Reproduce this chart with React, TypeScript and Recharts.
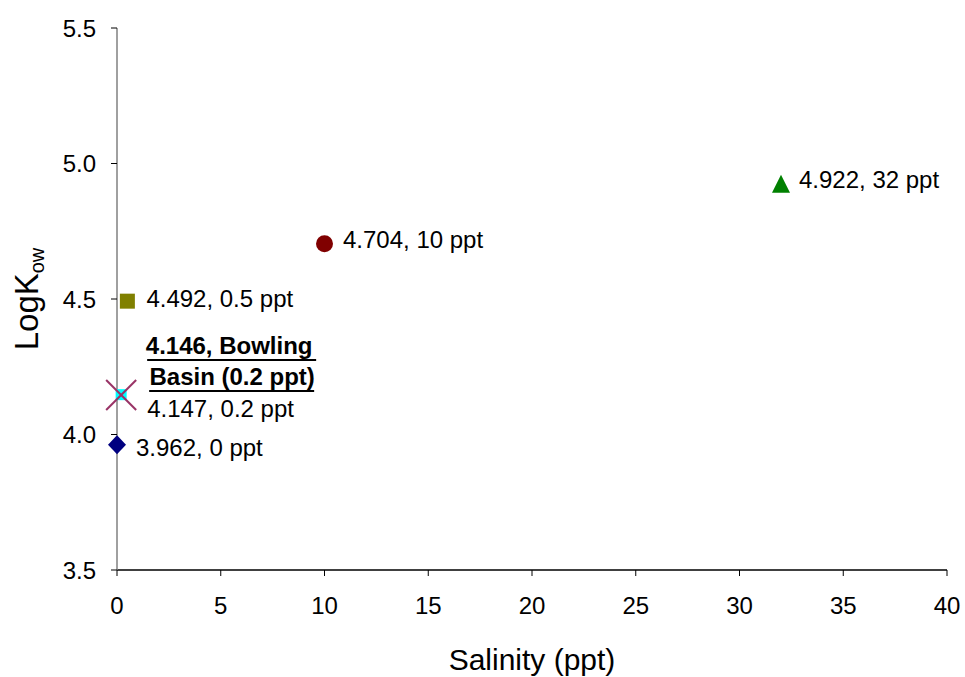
import React from "react";
import { ScatterChart, Scatter, XAxis, YAxis, Label } from "recharts";

// Partition coefficient vs. salinity of the water phase
const salinity = [0, 0.2, 0.5, 10, 32];
const logKow = [3.962, 4.147, 4.492, 4.704, 4.922];
const markerKinds = ["diamond", "smallSquare", "square", "circle", "triangle"];
const markerColors = ["#000080", "#00FFFF", "#808000", "#800000", "#008000"];

// Field sample
const basinSalinity = [0.2];
const basinLogKow = [4.146];
const basinTitle = ["Bowling", "Basin"];

const xTicks = [0, 5, 10, 15, 20, 25, 30, 35, 40];
const yTicks = [3.5, 4.0, 4.5, 5.0, 5.5];

// label placement next to each marker: [dx, baseline dy]
const labelOffsets = [
  [19, 11],
  [26, 22],
  [19, 6],
  [18.5, 4],
  [18, 3.5],
];

const FONT = "'Liberation Sans', Arial, sans-serif";

const series = salinity.map((s, i) => ({
  name: `${s} ppt`,
  kind: markerKinds[i],
  color: markerColors[i],
  offset: labelOffsets[i],
  data: [{ x: s, y: logKow[i] }],
}));

const basinData = basinSalinity.map((s, i) => ({ x: s, y: basinLogKow[i] }));

function Marker({ cx, cy, kind, color }: any) {
  switch (kind) {
    case "diamond":
      return <polygon points={`${cx},${cy - 9.5} ${cx + 9},${cy} ${cx},${cy + 9.5} ${cx - 9},${cy}`} fill={color} />;
    case "smallSquare":
      return <rect x={cx - 5.5} y={cy - 5.5} width={11} height={11} fill={color} />;
    case "square":
      return <rect x={cx - 7.5} y={cy - 7.5} width={15} height={15} fill={color} />;
    case "circle":
      return <circle cx={cx} cy={cy} r={8.5} fill={color} />;
    case "triangle":
      return <polygon points={`${cx},${cy - 10} ${cx + 9},${cy + 8} ${cx - 9},${cy + 8}`} fill={color} />;
    default:
      return null;
  }
}

function makePoint(kind: string, color: string, offset: number[]) {
  return (props: any) => {
    const { cx, cy, payload } = props;
    return (
      <g>
        <Marker cx={cx} cy={cy} kind={kind} color={color} />
        <text x={cx + offset[0]} y={cy + offset[1]} fontSize={24} fontFamily={FONT} fill="#000">
          {`${payload.y}, ${payload.x} ppt`}
        </text>
      </g>
    );
  };
}

function BasinPoint(props: any) {
  const { cx, cy, payload } = props;
  return (
    <g>
      <line x1={cx - 15} y1={cy - 15} x2={cx + 15} y2={cy + 15} stroke="#993366" strokeWidth={2} />
      <line x1={cx - 15} y1={cy + 15} x2={cx + 15} y2={cy - 15} stroke="#993366" strokeWidth={2} />
      <text textAnchor="middle" fontSize={24} fontWeight="bold" fontFamily={FONT} fill="#000">
        <tspan x={cx + 108} y={cy - 41}>{`${payload.y}, ${basinTitle[0]}`}</tspan>
        <tspan x={cx + 111} y={cy - 10}>{`${basinTitle[1]} (${payload.x} ppt)`}</tspan>
      </text>
      <line x1={cx + 26} y1={cy - 35} x2={cx + 195} y2={cy - 35} stroke="#000" strokeWidth={2} />
      <line x1={cx + 28} y1={cy - 4} x2={cx + 193} y2={cy - 4} stroke="#000" strokeWidth={2} />
    </g>
  );
}

export default function App() {
  return (
    <div style={{ position: "absolute", left: 0, top: 0, background: "#fff" }}>
      <ScatterChart width={965} height={677} margin={{ top: 28, right: 18, left: 57, bottom: 47 }}>
        <XAxis
          type="number"
          dataKey="x"
          domain={[0, 40]}
          ticks={xTicks}
          interval={0}
          axisLine={{ stroke: "#000", strokeWidth: 1.5 }}
          tickLine={{ stroke: "#000" }}
          tickSize={6}
          tickMargin={21}
          height={60}
          tick={{ fontSize: 24, fontFamily: FONT, fill: "#000" }}
        >
          <Label
            content={({ viewBox }: any) => (
              <text x={viewBox.x + viewBox.width / 2} y={viewBox.y + 100} textAnchor="middle" fontSize={30} fontFamily={FONT} fill="#000">
                Salinity (ppt)
              </text>
            )}
          />
        </XAxis>
        <YAxis
          type="number"
          dataKey="y"
          domain={[3.5, 5.5]}
          ticks={yTicks}
          interval={0}
          width={60}
          axisLine={{ stroke: "#808080", strokeWidth: 1.5 }}
          tickLine={{ stroke: "#000" }}
          tickSize={6}
          tickMargin={15}
          tickFormatter={(v: number) => v.toFixed(1)}
          tick={{ fontSize: 24, fontFamily: FONT, fill: "#000" }}
        >
          <Label
            content={({ viewBox }: any) => {
              const cx = 38;
              const cy = viewBox.y + viewBox.height / 2;
              return (
                <text x={cx} y={cy} transform={`rotate(-90, ${cx}, ${cy})`} textAnchor="middle" fontSize={33} fontFamily={FONT} fill="#000">
                  LogK
                  <tspan fontSize={20} dy={6}>ow</tspan>
                </text>
              );
            }}
          />
        </YAxis>
        {series.map((s) => (
          <Scatter
            key={s.name}
            name={s.name}
            data={s.data}
            shape={makePoint(s.kind, s.color, s.offset)}
            isAnimationActive={false}
          />
        ))}
        <Scatter name="Bowling Basin" data={basinData} shape={BasinPoint} isAnimationActive={false} />
      </ScatterChart>
    </div>
  );
}
